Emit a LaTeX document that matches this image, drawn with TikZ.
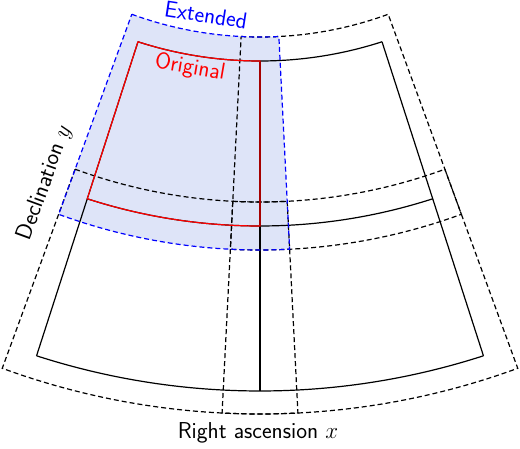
\RequirePackage{fix-cm}
\documentclass[tikz,border=0pt]{standalone}
\usetikzlibrary{calc}
\definecolor{extfill}{RGB}{222,228,248}
\newcommand{\sectorpath}[4]{($(C)+(#1:#3pt)$) arc[start angle=#1,end angle=#2,radius=#3pt] -- ($(C)+(#2:#4pt)$) arc[start angle=#2,end angle=#1,radius=#4pt] -- cycle}
\tikzset{
  gridline/.style={line width=1.2pt, black},
  extline/.style={line width=1.2pt, dash pattern=on 5pt off 3pt},
  lbl/.style={font=\sffamily\fontsize{23}{27}\selectfont, inner sep=0pt}
}
\begin{document}
\begin{tikzpicture}[x=1pt,y=1pt]
\useasboundingbox (0,-448) rectangle (520,0);
\coordinate (C) at (260,336);
% fill of extended region
\fill[extfill] \sectorpath{249.9}{272.9}{373}{586};
% black dashed extended regions
\draw[extline, black] \sectorpath{267.1}{290.1}{373}{586};
\draw[extline, black] \sectorpath{249.9}{272.9}{538}{750};
\draw[extline, black] \sectorpath{267.1}{290.1}{538}{750};
% solid grid
\draw[gridline] ($(C)+(252.1:397pt)$) arc[start angle=252.1,end angle=287.9,radius=397pt];
\draw[gridline] ($(C)+(252.1:562pt)$) arc[start angle=252.1,end angle=287.9,radius=562pt];
\draw[gridline] ($(C)+(252.1:727pt)$) arc[start angle=252.1,end angle=287.9,radius=727pt];
\draw[gridline] ($(C)+(252.1:397pt)$) -- ($(C)+(252.1:727pt)$);
\draw[gridline] ($(C)+(270:397pt)$) -- ($(C)+(270:727pt)$);
\draw[gridline] ($(C)+(287.9:397pt)$) -- ($(C)+(287.9:727pt)$);
% original cell
\draw[line width=1.2pt, red] \sectorpath{252.1}{270}{397}{562};
% extended cell outline
\draw[extline, blue] \sectorpath{249.9}{272.9}{373}{586};
% labels
\node[lbl, blue, rotate=-8.8] (ext) at (206,-15) {Extended};
\node[lbl, red, rotate=-9.8] (orig) at (190,-68) {Original};
\node[lbl, rotate=70] (dec) at (45,-183) {Declination $y$};
\node[lbl] (ra) at (258,-433) {Right ascension $x$};
\end{tikzpicture}
\end{document}
